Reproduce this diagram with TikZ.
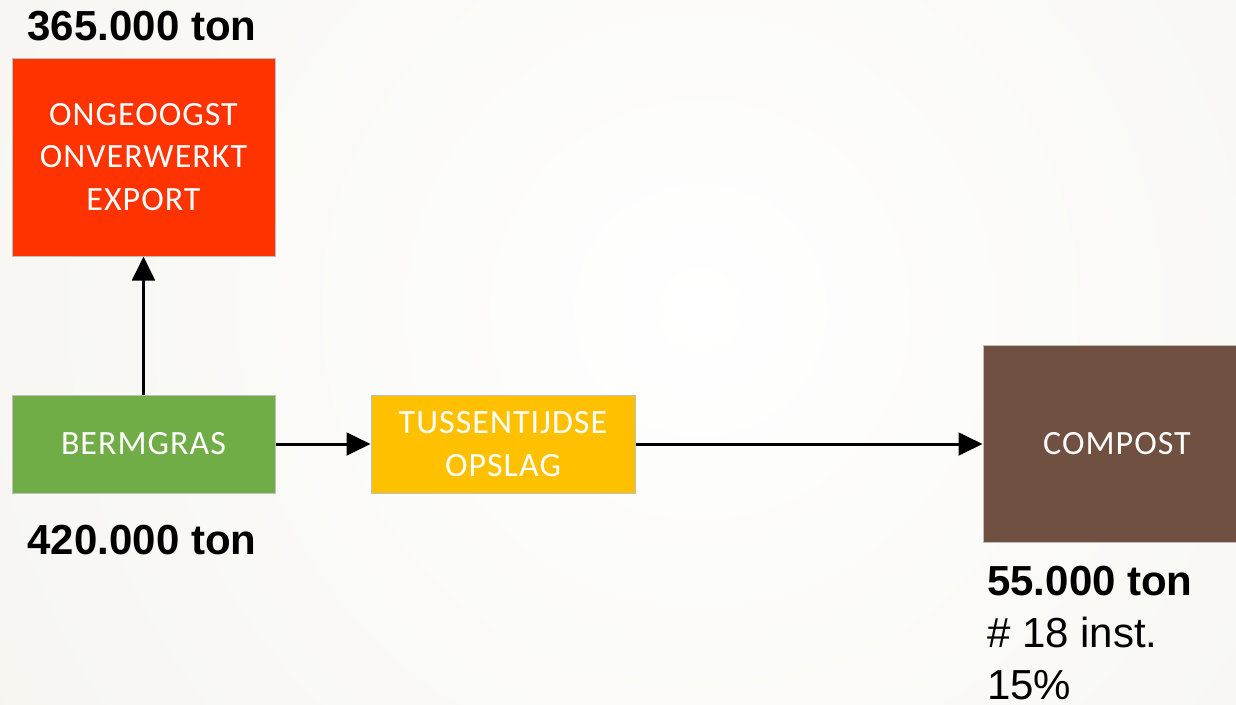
\documentclass[tikz,border=0pt]{standalone}
\usepackage{fontspec}
\setmainfont{Liberation Sans}
\newfontfamily\blokfont[LetterSpace=3]{Carlito}
\usetikzlibrary{arrows.meta}

\definecolor{achtergrond}{RGB}{238,236,227}
\definecolor{oranjerood}{RGB}{255,51,0}
\definecolor{grasgroen}{RGB}{112,173,71}
\definecolor{geel}{RGB}{255,192,0}
\definecolor{bruin}{RGB}{112,80,64}

\tikzset{
  blok/.style={draw=black!25, line width=0.75, text=white, align=center,
    font=\blokfont\fontsize{25.5}{32}\selectfont, inner sep=0pt},
  pijl/.style={-{Triangle[length=18pt,width=17pt]}, line width=2.25pt},
  tonnage/.style={font=\bfseries\fontsize{31.5}{39}\selectfont, inner sep=0pt}
}

\begin{document}
\begin{tikzpicture}[x=0.75pt,y=0.75pt,yscale=-1,xscale=1]
  \useasboundingbox (0,0) rectangle (1236,704);

  % Background
  \begin{scope}
    \clip (0,0) rectangle (1236,704);
    \fill[achtergrond] (0,0) rectangle (1236,704);
    \shade[inner color=white, outer color=achtergrond] (-900,-1290) rectangle (2300,1910);

    % Boxes
    \node[blok, fill=oranjerood, minimum width=197.25pt, minimum height=148.5pt] (export) at (143.5,157) {ONGEOOGST\\ONVERWERKT\\EXPORT};
    \node[blok, fill=grasgroen, minimum width=197.25pt, minimum height=73.5pt] (bermgras) at (143.5,444) {BERMGRAS};
    \node[blok, fill=geel, minimum width=198pt, minimum height=73.5pt] (opslag) at (503,444) {TUSSENTIJDSE\\OPSLAG};
    \node[blok, fill=bruin, minimum width=201pt, minimum height=147.75pt] (compost) at (1117,443.5) {COMPOST};
  \end{scope}

  % Arrows
  \draw[pijl] (bermgras.north) -- (export.south);
  \draw[pijl] (bermgras.east) -- (opslag.west);
  \draw[pijl] (opslag.east) -- (opslag.east -| compost.west);

  % Text Node
  \node[tonnage] (ton365) at (142,26) {365.000 ton};
  % Text Node
  \node[tonnage] (ton420) at (142,540) {420.000 ton};
  % Text Node
  \node[tonnage, anchor=north west, align=left] (ton55) at (987,566)
    {55.000 ton\\{\mdseries \# 18 inst.}\\{\mdseries 15\%}};
\end{tikzpicture}
\end{document}
